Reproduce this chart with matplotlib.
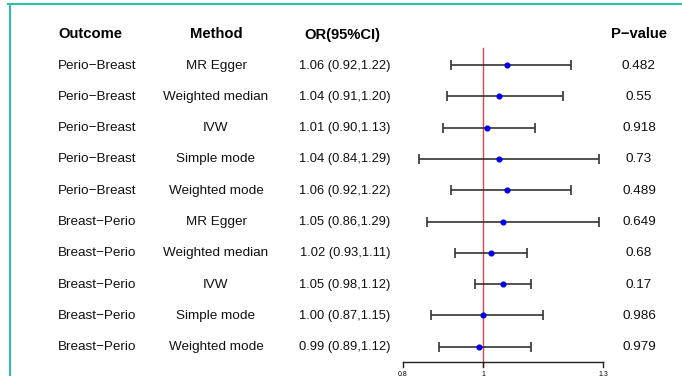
import numpy as np
import matplotlib
matplotlib.use("Agg")
import matplotlib.pyplot as plt
from matplotlib.lines import Line2D

plt.rcParams['font.family'] = ['Liberation Sans', 'DejaVu Sans']

outcome = ["Perio−Breast"] * 5 + ["Breast−Perio"] * 5
method = ["MR Egger", "Weighted median", "IVW", "Simple mode", "Weighted mode"] * 2
or_val = [1.06, 1.04, 1.01, 1.04, 1.06, 1.05, 1.02, 1.05, 1.00, 0.99]
ci_low = [0.92, 0.91, 0.90, 0.84, 0.92, 0.86, 0.93, 0.98, 0.87, 0.89]
ci_high = [1.22, 1.20, 1.13, 1.29, 1.22, 1.29, 1.11, 1.12, 1.15, 1.12]
pval = ["0.482", "0.55", "0.918", "0.73", "0.489", "0.649", "0.68", "0.17", "0.986", "0.979"]
ticks = [0.8, 1, 1.3]
tick_labels = ["0.8", "1", "1.3"]

W, H = 682, 376
fig = plt.figure(figsize=(W / 100, H / 100), dpi=100)
ax = fig.add_axes([0, 0, 1, 1])
ax.axis('off')

# pixel -> data mapping: x_px = 483 + 400*(OR-1), row i at y_px = 65 + 31.3*i
row_h = 31.3
y0 = 65
ax.set_xlim(1 - 483 / 400, 1 + (W - 483) / 400)
ax.set_ylim((H - y0) / row_h, -y0 / row_h)

def py(px):
    return (px - y0) / row_h

def fx(px):
    return px / W

rows = np.arange(len(or_val))
trans = ax.get_yaxis_transform()  # x in axes fraction, y in data

# headers
hdr = dict(fontsize=10.6, fontweight='bold', va='center_baseline', transform=trans)
ax.text(fx(58), py(33), "Outcome", ha='left', **hdr)
ax.text(fx(216), py(33), "Method", ha='center', **hdr)
ax.text(fx(342), py(33), "OR(95%CI)", ha='center', **hdr)
ax.text(fx(639), py(33), "P−value", ha='center', **hdr)

body = dict(fontsize=9.7, va='center_baseline', transform=trans, color='#111111')
for i in rows:
    ax.text(fx(58), i - 0.03, outcome[i], ha='left', **body)
    ax.text(fx(216), i - 0.03, method[i], ha='center', **body)
    ax.text(fx(345), i - 0.03, f"{or_val[i]:.2f} ({ci_low[i]:.2f},{ci_high[i]:.2f})", ha='center',
            **{**body, 'fontsize': 9.3})
    ax.text(fx(639), i - 0.03, pval[i], ha='center', **body)

# reference line
ax.plot([1, 1], [py(48), py(366)], color='#e04848', lw=1.0, zorder=1)

# confidence intervals
or_arr = np.array(or_val)
ax.errorbar(or_arr, rows, xerr=[or_arr - np.array(ci_low), np.array(ci_high) - or_arr],
            fmt='none', ecolor='#333333', elinewidth=1.2, capsize=3.4, capthick=1.2, zorder=2)
ax.plot(or_arr, rows, 'o', color='#0000ee', markersize=3.4, zorder=3)

# x axis
ax.plot([ticks[0], ticks[-1]], [py(362), py(362)], color='#222222', lw=1.0)
for t, lab in zip(ticks, tick_labels):
    ax.plot([t, t], [py(362), py(367)], color='#222222', lw=1.0)
    ax.text(t, py(374), lab, ha='center', va='center', fontsize=5)

# teal frame from the screenshot
teal = '#2fbfa5'
fig.add_artist(Line2D([8 / W, 1], [1 - 4 / H, 1 - 4 / H], color=teal, lw=1.5))
fig.add_artist(Line2D([10 / W, 10 / W], [0, 1 - 4 / H], color=teal, lw=1.5))

fig.savefig("out.png", dpi=100)
